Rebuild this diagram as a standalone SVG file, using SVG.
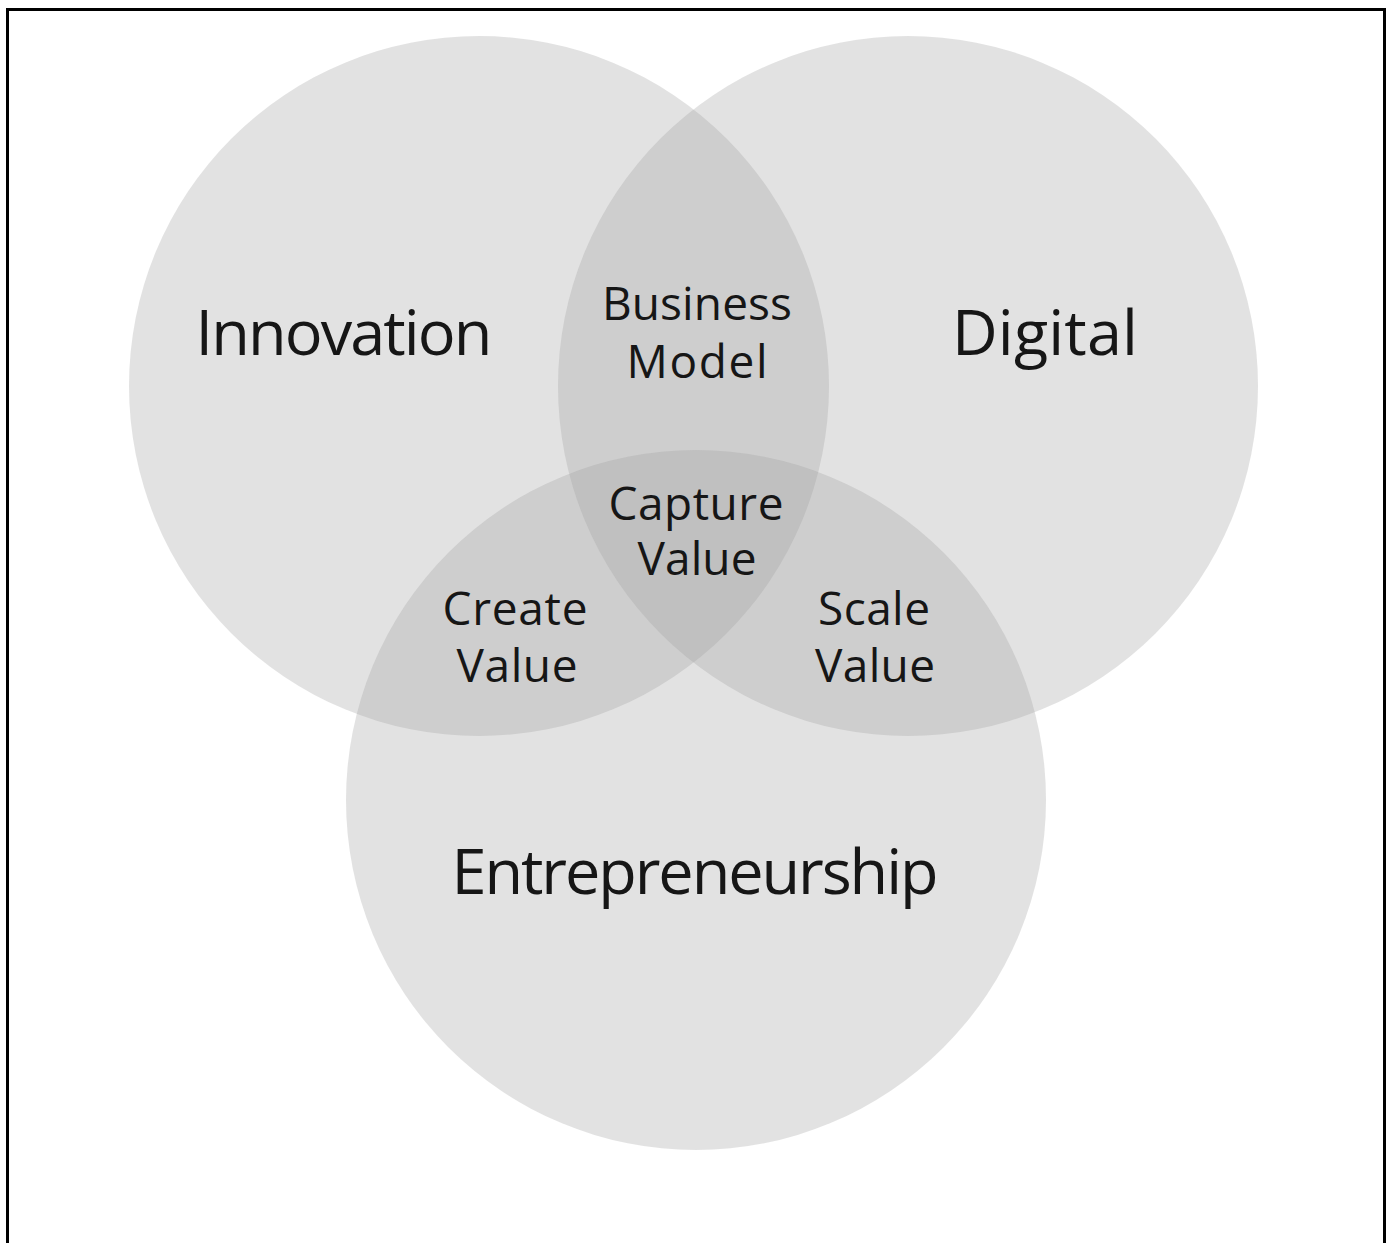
<svg xmlns="http://www.w3.org/2000/svg" width="1392" height="1243" viewBox="0 0 1392 1243">
<style>
.c{fill:#a0a0a0;fill-opacity:0.3;stroke:none}
.big{font-family:"Open Sans","Noto Sans","Liberation Sans",sans-serif;font-size:63px;fill:#161616;text-anchor:middle}
.sm{font-family:"Open Sans","Noto Sans","Liberation Sans",sans-serif;font-size:46px;fill:#161616;text-anchor:middle}
</style>
<rect x="0" y="0" width="1392" height="1243" fill="#ffffff"/>
<rect x="7.5" y="9.5" width="1377" height="1260" fill="none" stroke="#000" stroke-width="3"/>
<g id="innovation">
<circle class="c" cx="479" cy="386" r="350"/>
<text class="big" x="344" y="355" textLength="297">Innovation</text>
</g>
<g id="digital">
<circle class="c" cx="908" cy="386" r="350"/>
<text class="big" x="1045" y="355" textLength="186">Digital</text>
</g>
<g id="entrepreneurship">
<circle class="c" cx="696" cy="800" r="350"/>
<text class="big" x="695" y="894" textLength="487">Entrepreneurship</text>
</g>
<g id="business-model">
<text class="sm" x="697" y="320" textLength="190">Business</text>
<text class="sm" x="697" y="378" textLength="141">Model</text>
</g>
<g id="capture-value">
<text class="sm" x="696" y="520" textLength="175">Capture</text>
<text class="sm" x="697" y="575" textLength="119">Value</text>
</g>
<g id="create-value">
<text class="sm" x="515" y="625" textLength="145">Create</text>
<text class="sm" x="517" y="682" textLength="121">Value</text>
</g>
<g id="scale-value">
<text class="sm" x="874" y="625" textLength="112">Scale</text>
<text class="sm" x="875" y="682" textLength="120">Value</text>
</g>
<g id="connectors"></g>
</svg>
